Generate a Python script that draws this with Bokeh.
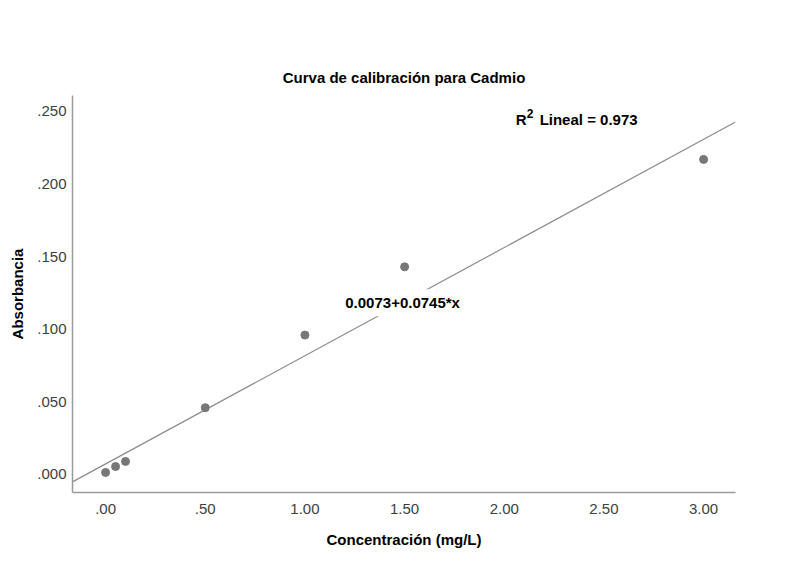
from bokeh.plotting import figure
from bokeh.models import FixedTicker, Label, Range1d
from bokeh.embed import file_html
from bokeh.resources import INLINE

# Data
concentracion = [0.00, 0.05, 0.10, 0.50, 1.00, 1.50, 3.00]
absorbancia = [0.0014, 0.0055, 0.0090, 0.0460, 0.0960, 0.1430, 0.2170]
intercepto = 0.0073
pendiente = 0.0745
r2 = 0.973

x_ticks = [0.0, 0.5, 1.0, 1.5, 2.0, 2.5, 3.0]
x_tick_labels = [".00", ".50", "1.00", "1.50", "2.00", "2.50", "3.00"]
y_ticks = [0.0, 0.05, 0.10, 0.15, 0.20, 0.25]
y_tick_labels = [".000", ".050", ".100", ".150", ".200", ".250"]

FONT = "Liberation Sans"
x0, x1 = -0.166, 3.16
y0, y1 = -0.0124, 0.261

p = figure(width=791, height=551, output_backend="svg", toolbar_location=None,
           x_range=Range1d(x0, x1), y_range=Range1d(y0, y1),
           min_border_left=72, min_border_right=56, min_border_top=95, min_border_bottom=59)
p.outline_line_color = None
p.xgrid.visible = False
p.ygrid.visible = False
p.background_fill_color = "white"

p.title.text = "Curva de calibración para Cadmio"
p.title.align = "center"
p.title.text_font = FONT
p.title.text_font_size = "15px"
p.title.text_font_style = "bold"
p.title.text_color = "#000000"
p.title.standoff = 19

for ax in (p.xaxis[0], p.yaxis[0]):
    ax.major_tick_out = 0
    ax.major_tick_in = 0
    ax.minor_tick_out = 0
    ax.minor_tick_in = 0
    ax.axis_line_color = "#9a9a9a"
    ax.axis_line_width = 1.5
    ax.major_label_text_font = FONT
    ax.major_label_text_font_size = "15px"
    ax.major_label_text_color = "#404040"
    ax.axis_label_text_font = FONT
    ax.axis_label_text_font_size = "15px"
    ax.axis_label_text_font_style = "bold"
    ax.axis_label_text_color = "#000000"

p.xaxis.ticker = FixedTicker(ticks=x_ticks)
p.xaxis.major_label_overrides = {t: l for t, l in zip(x_ticks, x_tick_labels)}
p.yaxis.ticker = FixedTicker(ticks=y_ticks)
p.yaxis.major_label_overrides = {t: l for t, l in zip(y_ticks, y_tick_labels)}
p.xaxis.axis_label = "Concentración (mg/L)"
p.yaxis.axis_label = "Absorbancia"
p.xaxis.major_label_standoff = 11
p.xaxis.axis_label_standoff = 14
p.yaxis.major_label_standoff = 6
p.yaxis.axis_label_standoff = 8

# regression line
lx = [x0, x1]
ly = [intercepto + pendiente * v for v in lx]
p.line(lx, ly, line_color="#8c8c8c", line_width=1.2)

p.scatter(concentracion, absorbancia, size=8, fill_color="#777777", line_color="#777777")

# equation label
eq = Label(x=1.49, y=intercepto + pendiente * 1.49, text="%.4f+%.4f*x" % (intercepto, pendiente),
           text_align="center", text_baseline="middle", text_font=FONT,
           text_font_size="15px", text_font_style="bold", text_color="#000000",
           background_fill_color="white", border_line_color=None, padding=5)
p.add_layout(eq)

# R^2 label
ry = 0.2445
p.add_layout(Label(x=2.057, y=ry, text="R", text_font=FONT, text_font_size="15px",
                   text_font_style="bold", text_baseline="alphabetic", text_color="#000000"))
p.add_layout(Label(x=2.057, y=ry, x_offset=11, y_offset=6, text="2", text_font=FONT,
                   text_font_size="12px", text_font_style="bold", text_baseline="alphabetic",
                   text_color="#000000"))
p.add_layout(Label(x=2.057, y=ry, x_offset=24, text="Lineal = %.3f" % r2, text_font=FONT,
                   text_font_size="15px", text_font_style="bold", text_baseline="alphabetic",
                   text_color="#000000"))

open("out.html", "w").write(file_html(p, INLINE))
